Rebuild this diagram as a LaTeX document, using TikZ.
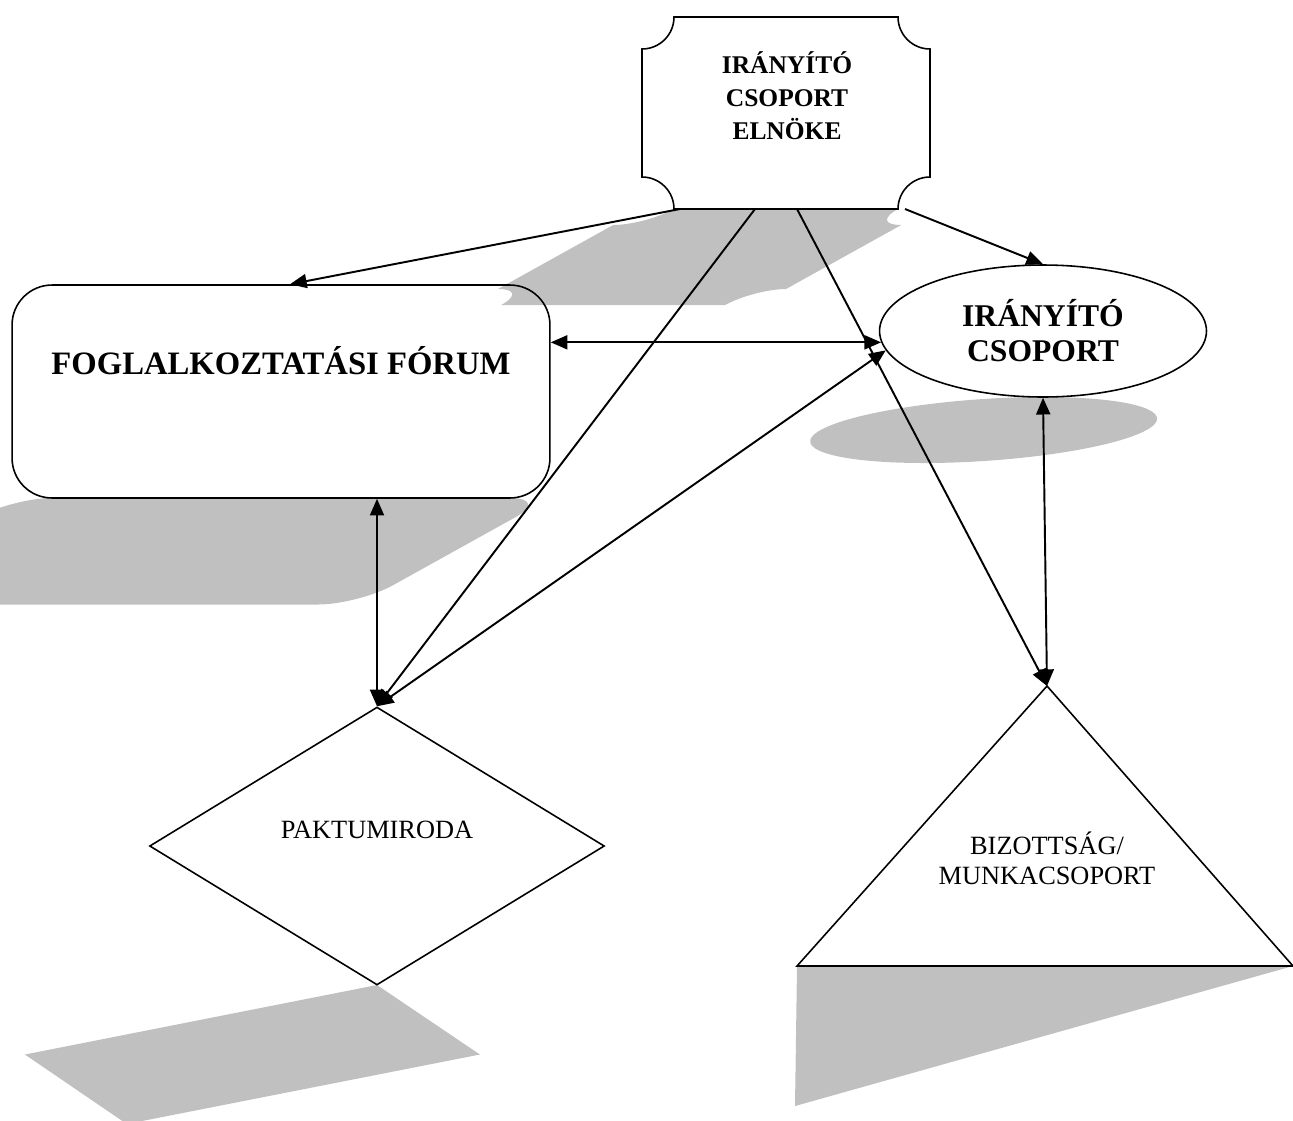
\documentclass[tikz,border=0pt]{standalone}
\usepackage{fontspec}
\setmainfont{Liberation Serif}
\usetikzlibrary{arrows.meta,shapes.geometric}
\definecolor{shadowgray}{RGB}{192,192,192}
\newcommand\plaquepath{(674,17) -- (898,17) arc[start angle=180, end angle=90, radius=32]
  -- (930,177) arc[start angle=270, end angle=180, radius=32]
  -- (674,209) arc[start angle=0, end angle=-90, radius=32]
  -- (642,49) arc[start angle=90, end angle=0, radius=32] -- cycle}

\begin{document}
\begin{tikzpicture}[x=0.02cm, y=-0.02cm,
    shadowfill/.style={fill=shadowgray},
    shadowbelow/.style={cm={1,0,-0.9,-0.5,({-0.9*#1},{1.5*#1})}},
    outline/.style={draw, line width=0.9pt},
    bigbold/.style={font=\fontsize{18.6}{20}\selectfont\bfseries, align=center},
    plain/.style={font=\fontsize{15}{17}\selectfont, align=center},
    link/.style={line width=1.1pt, -{Triangle[length=9.5pt, width=8pt]}},
    twoway/.style={line width=1.1pt, {Triangle[length=9.5pt, width=8pt]}-{Triangle[length=9.5pt, width=8pt]}}]
  \useasboundingbox (0,0) rectangle (1293,1120);
  \clip (0,0) rectangle (1293,1120);

  \fill[shadowfill, shadowbelow=498, rounded corners=0.8cm] (12,285) rectangle (550,498);
  \fill[shadowfill, shadowbelow=209] \plaquepath;
  \fill[shadowfill, shadowbelow=397] (1043,331) ellipse[x radius=163, y radius=66];
  \fill[shadowfill, shadowbelow=985] (377,707) -- (605,846) -- (377,985) -- (150,846) -- cycle;
  \fill[shadowfill, shadowbelow=966] (1047,686) -- (1293,966) -- (797,966) -- cycle;

  \node[outline, rounded corners=0.8cm, minimum width=10.76cm, minimum height=4.26cm,
        label={[bigbold, yshift=0.62cm]center:FOGLALKOZTATÁSI FÓRUM}] (forum) at (281,391.5) {};

  \draw[outline] \plaquepath;
  \node[font=\fontsize{14.5}{18.7}\selectfont\bfseries, align=center] (elnok) at (787,96)
    {IRÁNYÍTÓ\\CSOPORT\\ELNÖKE};
  \coordinate (el1) at (680,209);
  \coordinate (el2) at (755,209);
  \coordinate (el3) at (797,209);
  \coordinate (el4) at (905,209);

  \node[outline, font=\fontsize{18}{20}\selectfont\bfseries, align=center, ellipse, inner sep=0pt,
        minimum width=6.54cm, minimum height=2.64cm] (iranyito) at (1043,331) {IRÁNYÍTÓ\\CSOPORT};

  \node[outline, diamond, inner sep=0pt, minimum width=9.1cm, minimum height=5.56cm,
        label={[plain, yshift=0.32cm]center:PAKTUMIRODA}] (paktum) at (377,846) {};

  \draw[outline] (1047,686) -- (1293,966) -- (797,966) -- cycle;
  \coordinate (apex) at (1047,686);
  \node[plain] (bizottsag) at (1047,858) {BIZOTTSÁG/\\MUNKACSOPORT};

  \draw[link] (el1) -- ([xshift=0.18cm]forum.north);
  \draw[link] (el2) -- (paktum.north);
  \draw[link] (el3) -- (apex);
  \draw[link] (el4) -- (iranyito.north);
  \draw[twoway] (forum.east |- iranyito.184) -- (iranyito.184);
  \draw[twoway] (paktum.north) -- (iranyito.187);
  \draw[twoway] (paktum.north |- forum.south) -- (paktum.north);
  \draw[twoway] (iranyito.south) -- (apex);
\end{tikzpicture}
\end{document}
